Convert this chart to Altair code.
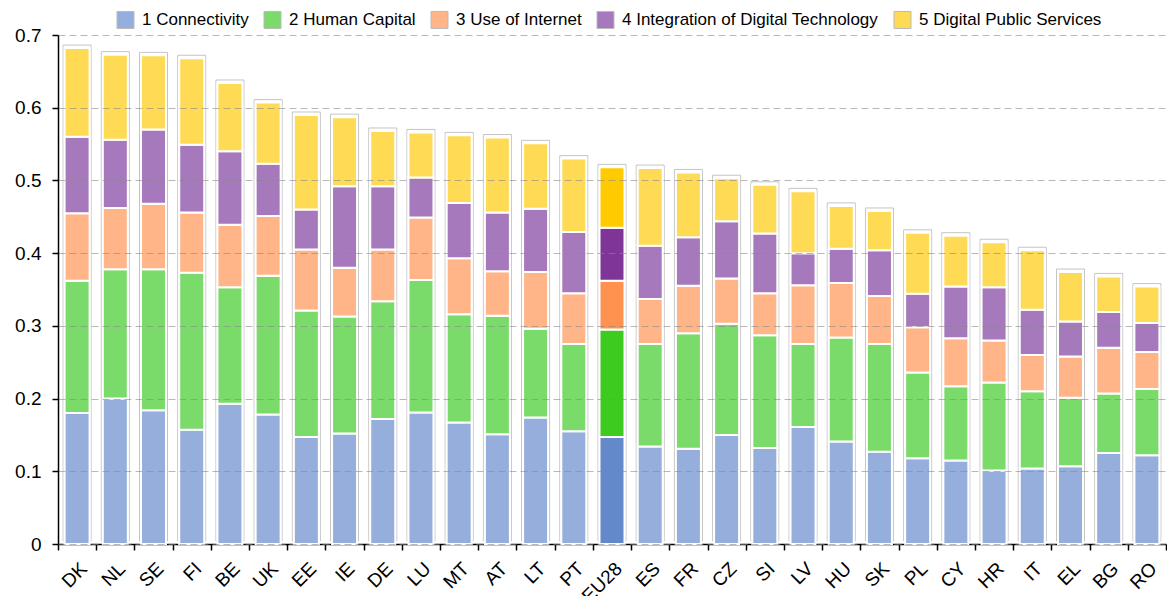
import altair as alt
import pandas as pd

countries = ["DK", "NL", "SE", "FI", "BE", "UK", "EE", "IE", "DE", "LU", "MT", "AT", "LT", "PT",
             "EU28", "ES", "FR", "CZ", "SI", "LV", "HU", "SK", "PL", "CY", "HR", "IT", "EL", "BG", "RO"]
series = ["1 Connectivity", "2 Human Capital", "3 Use of Internet",
          "4 Integration of Digital Technology", "5 Digital Public Services"]

connectivity = [0.180, 0.200, 0.184, 0.157, 0.193, 0.178, 0.147, 0.152, 0.172, 0.181, 0.167, 0.151, 0.174, 0.155,
                0.147, 0.134, 0.131, 0.150, 0.132, 0.161, 0.141, 0.127, 0.118, 0.115, 0.101, 0.104, 0.107, 0.125, 0.122]
human_capital = [0.182, 0.178, 0.194, 0.216, 0.160, 0.191, 0.174, 0.161, 0.162, 0.182, 0.149, 0.163, 0.122, 0.120,
                 0.148, 0.141, 0.159, 0.153, 0.155, 0.114, 0.143, 0.148, 0.118, 0.102, 0.121, 0.106, 0.094, 0.082, 0.091]
use_internet = [0.093, 0.084, 0.090, 0.083, 0.086, 0.082, 0.084, 0.067, 0.071, 0.086, 0.077, 0.061, 0.078, 0.070,
                0.067, 0.062, 0.065, 0.062, 0.058, 0.081, 0.075, 0.066, 0.062, 0.066, 0.058, 0.050, 0.057, 0.063, 0.051]
integration = [0.105, 0.094, 0.102, 0.093, 0.101, 0.072, 0.055, 0.112, 0.087, 0.055, 0.076, 0.081, 0.087, 0.084,
               0.073, 0.073, 0.067, 0.079, 0.082, 0.044, 0.047, 0.063, 0.046, 0.071, 0.073, 0.062, 0.048, 0.049, 0.040]
public_services = [0.122, 0.117, 0.102, 0.119, 0.094, 0.084, 0.130, 0.095, 0.076, 0.062, 0.093, 0.103, 0.090, 0.101,
                   0.083, 0.107, 0.089, 0.059, 0.067, 0.085, 0.059, 0.054, 0.084, 0.070, 0.062, 0.082, 0.068, 0.049, 0.050]

colors_normal = ["#95AEDB", "#7ADB6A", "#FFB587", "#A678BC", "#FFDA55"]
colors_eu = ["#6389CA", "#3CCB1E", "#FF924F", "#7F3598", "#FFCB00"]

values = [connectivity, human_capital, use_internet, integration, public_services]

rows = []
for ci, c in enumerate(countries):
    for si, s in enumerate(series):
        key = ("EU28 " + s) if c == "EU28" else s
        rows.append({"country": c, "series": s, "idx": si, "value": values[si][ci], "key": key})
df = pd.DataFrame(rows)

totals = pd.DataFrame({"country": countries,
                       "total": [sum(v[i] for v in values) for i in range(len(countries))]})

key_domain = series + ["EU28 " + s for s in series]
key_range = colors_normal + colors_eu

xenc = alt.X("country:N", sort=countries, title=None,
             scale=alt.Scale(domain=countries, paddingInner=0, paddingOuter=0),
             axis=alt.Axis(labelAngle=-45, labelFontSize=19, labelColor="black", labelFont="Liberation Sans",
                           domainColor="black", domainWidth=1.5, tickColor="black", tickWidth=1.5,
                           tickSize=6, tickBand="extent", labelPadding=9, grid=False))

outline = alt.Chart(totals).mark_bar(size=28, fill="white", stroke="#c4c4c4", strokeWidth=1,
                                     yOffset=-3).encode(
    x=xenc,
    y=alt.Y("total:Q", scale=alt.Scale(domain=[0, 0.7], nice=False), title=None,
            axis=alt.Axis(values=[0, 0.1, 0.2, 0.3, 0.4, 0.5, 0.6, 0.7],
                          labelExpr="datum.value == 0 ? '0' : format(datum.value, '.1f')",
                          labelFontSize=19, labelColor="black", labelFont="Liberation Sans",
                          domainColor="black", domainWidth=1.5, tickColor="black", tickWidth=1.5,
                          tickSize=6, labelPadding=11, grid=True, gridColor="#888888", gridOpacity=0.6,
                          gridDash=[7, 4], gridWidth=1, zindex=1)),
)

segments = alt.Chart(df).mark_bar(size=25, stroke="white", strokeWidth=2, opacity=1).encode(
    x=alt.X("country:N", sort=countries),
    y=alt.Y("value:Q", stack="zero"),
    color=alt.Color("key:N", scale=alt.Scale(domain=key_domain, range=key_range),
                    legend=alt.Legend(values=series, title=None, orient="none", direction="horizontal",
                                      legendX=58, legendY=-25, symbolType="square", symbolSize=290,
                                      symbolStrokeColor="#bbbbbb", symbolStrokeWidth=1, symbolOpacity=1,
                                      labelFontSize=17, labelFont="Liberation Sans", labelColor="black",
                                      labelOffset=7, columnPadding=12, labelLimit=400)),
    order=alt.Order("idx:Q", sort="ascending"),
)

chart = alt.layer(outline, segments).properties(
    width=1108, height=509,
    autosize=alt.AutoSizeParams(type="none"),
    padding={"left": 50, "top": 27, "right": 1, "bottom": 52},
).configure_view(stroke=None)

chart.save("out.html", embed_options={"renderer": "svg", "actions": False})
